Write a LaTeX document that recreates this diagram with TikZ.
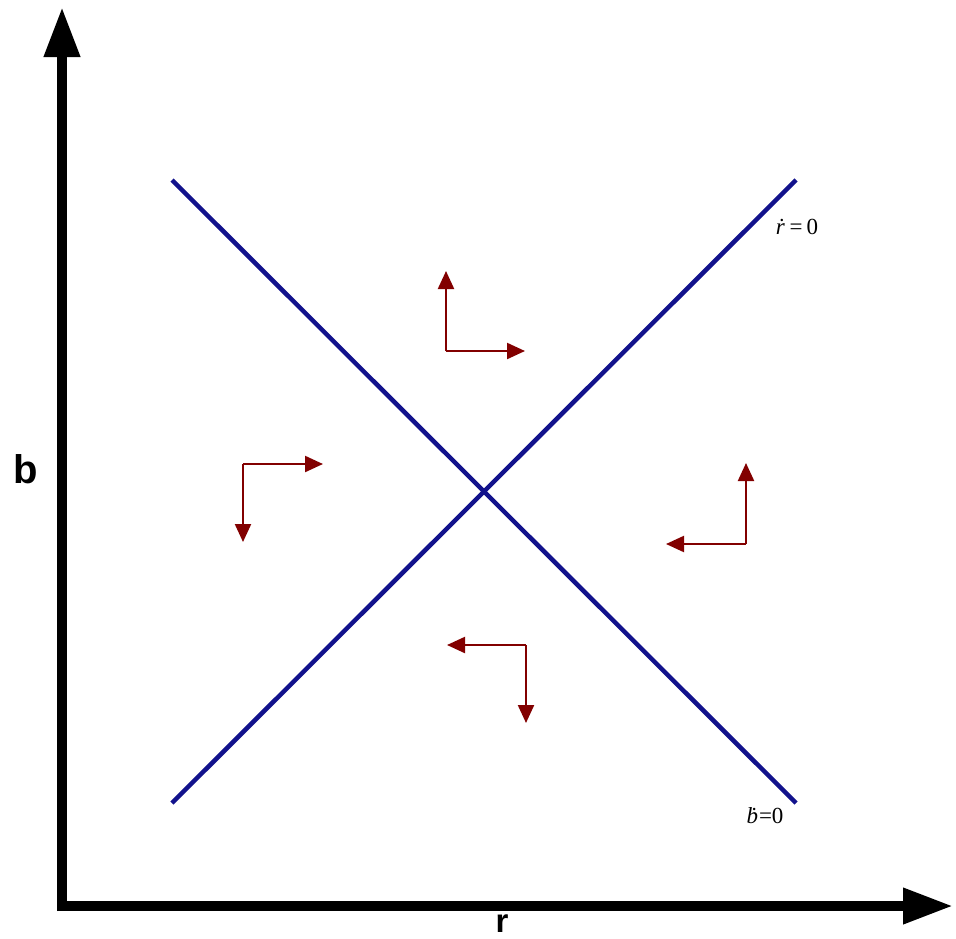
\documentclass[tikz,border=0pt]{standalone}
\usepackage{fontspec}
\setsansfont{Liberation Sans}
\newfontfamily\lblfont{Liberation Serif}
\usetikzlibrary{arrows.meta}
\definecolor{navyline}{RGB}{18,18,140}
\definecolor{flowred}{RGB}{130,0,0}
\tikzset{
  axisline/.style={line width=10pt,-{Triangle[length=50pt,width=34pt]}},
  nullcline/.style={navyline,line width=4.5pt},
  flow/.style={flowred,line width=2.2pt,-{Triangle[length=18pt,width=16pt]}},
  lbl/.style={font=\lblfont\fontsize{23}{27}\selectfont,inner sep=0pt},
  axlbl/.style={font=\sffamily\bfseries\fontsize{40}{44}\selectfont,inner sep=0pt,text depth=0pt},
  xlbl/.style={font=\sffamily\bfseries\fontsize{33}{36}\selectfont,inner sep=0pt,text depth=0pt}
}
\begin{document}
\begin{tikzpicture}[x=1pt,y=-1pt]
\useasboundingbox (0,0) rectangle (956,938);
% axes
\coordinate (O) at (62,906);
\coordinate (ytip) at (62,7);
\coordinate (xtip) at (953,906);
\draw[axisline] ([yshift=-5pt]O) -- (ytip);
\draw[axisline] ([xshift=-5pt]O) -- (xtip);
\node[axlbl,anchor=base] (blabel) at (26,483) {b};
\node[xlbl,anchor=base] (rlabel) at (502,932) {r};
% nullclines
\coordinate (a1) at (172,180);
\coordinate (a2) at (796,803);
\coordinate (c1) at (172,803);
\coordinate (c2) at (796,180);
\draw[nullcline] (a1) -- (a2);
\draw[nullcline] (c1) -- (c2);
\node[lbl,anchor=base] (rdot) at (797,234) {{\itshape\.{r}}\kern5pt=\kern4pt0};
\node[lbl,anchor=base] (bdot) at (765,823) {{\itshape\.{b}}\kern1pt=0};
% flow arrows
\coordinate (k1) at (446,351);
\draw[flow] (k1) -- (446,271);
\draw[flow] (k1) -- (525,351);
\coordinate (k2) at (243,464);
\draw[flow] (k2) -- (323,464);
\draw[flow] (k2) -- (243,542);
\coordinate (k3) at (746,544);
\draw[flow] (k3) -- (746,463);
\draw[flow] (k3) -- (666,544);
\coordinate (k4) at (526,645);
\draw[flow] (k4) -- (447,645);
\draw[flow] (k4) -- (526,723);
\end{tikzpicture}
\end{document}
